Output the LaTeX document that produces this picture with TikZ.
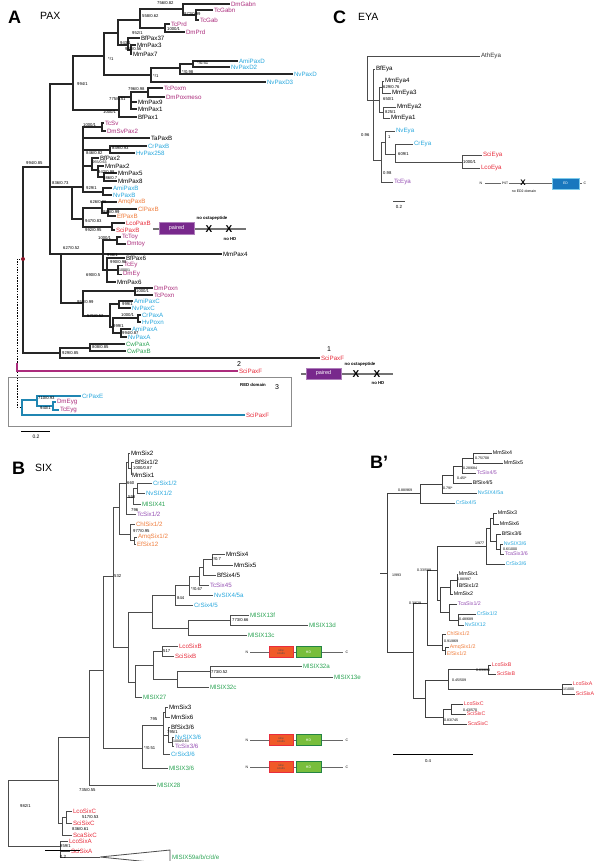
\documentclass[tikz,border=0pt]{standalone}
\usepackage{fontspec}
\setmainfont{Liberation Sans}
\definecolor{mag}{RGB}{172,45,125}
\definecolor{cyn}{RGB}{40,168,222}
\definecolor{org}{RGB}{240,125,60}
\definecolor{rd}{RGB}{232,45,60}
\definecolor{grn}{RGB}{45,165,85}
\definecolor{prp}{RGB}{150,80,180}
\definecolor{pbox}{RGB}{120,40,140}
\definecolor{edbl}{RGB}{25,120,190}
\definecolor{sobox}{RGB}{240,90,40}
\definecolor{hdbox}{RGB}{120,190,60}
\definecolor{dkred}{RGB}{140,20,40}
\newcommand\lf[5]{\node[leaf,text=#5] (#1) at (#2,#3) {#4};}
\newcommand\cd[3]{\coordinate (#1) at (#2,#3);}
\newcommand\ed[2]{\foreach \ch in {#2}{\draw[br] (#1) |- (\ch);}}
\newcommand\bs[3]{\node[bsl] (bs#1x#2) at (#1,#2) {#3};}
\begin{document}
\begin{tikzpicture}[x=1pt,y=-1pt,
 leaf/.style={anchor=west,inner sep=0.8pt,font=\fontsize{6.2}{6}\selectfont},
 bsl/.style={anchor=west,inner sep=0pt,font=\fontsize{4.2}{4.2}\selectfont},
 br/.style={draw=black!85,line width=1.1pt},
 ttl/.style={anchor=west,inner sep=0pt,font=\bfseries\fontsize{18}{18}\selectfont},
 sub/.style={anchor=west,inner sep=0pt,font=\fontsize{10.5}{10.5}\selectfont},
 xm/.style={inner sep=0pt,font=\bfseries\fontsize{10}{10}\selectfont},
 tiny/.style={inner sep=0pt,font=\bfseries\fontsize{4.3}{4.3}\selectfont},
 dline/.style={draw=black!55,line width=1.2pt}]
\useasboundingbox (0,0) rectangle (600,861);
\fill[white] (0,0) rectangle (600,861);

%================ PANEL A =================
\node[ttl] (tA) at (8,17) {A};
\node[sub] (tPAX) at (40,16) {PAX};
\lf{aDmGabn}{230}{4}{DmGabn}{mag}
\lf{aTcGabn}{213}{10}{TcGabn}{mag}
\lf{aTcGab}{199}{20}{TcGab}{mag}
\lf{aTcPrd}{170}{24}{TcPrd}{mag}
\lf{aDmPrd}{185}{32}{DmPrd}{mag}
\lf{aBfPax37}{140}{38}{BfPax37}{black}
\lf{aMmPax3}{136}{45}{MmPax3}{black}
\lf{aMmPax7}{132}{54}{MmPax7}{black}
\lf{aAmiPaxD}{238}{61}{AmiPaxD}{cyn}
\lf{aNvPaxD2}{230}{67}{NvPaxD2}{cyn}
\lf{aNvPaxD}{293}{74}{NvPaxD}{cyn}
\lf{aNvPaxD3}{266}{82}{NvPaxD3}{cyn}
\lf{aTcPoxm}{163}{88}{TcPoxm}{mag}
\lf{aDmPoxmeso}{165}{97}{DmPoxmeso}{mag}
\lf{aMmPax9}{137}{102}{MmPax9}{black}
\lf{aMmPax1}{137}{109}{MmPax1}{black}
\lf{aBfPax1}{137}{117}{BfPax1}{black}
\lf{aTcSv}{104}{123}{TcSv}{mag}
\lf{aDmSvPax2}{106}{131}{DmSvPax2}{mag}
\lf{aTaPaxB}{150}{138}{TaPaxB}{black}
\lf{aCrPaxB}{147}{146}{CrPaxB}{cyn}
\lf{aHvPax258}{135}{153}{HvPax258}{cyn}
\lf{aBfPax2}{99}{158}{BfPax2}{black}
\lf{aMmPax2}{104}{166}{MmPax2}{black}
\lf{aMmPax5}{117}{173}{MmPax5}{black}
\lf{aMmPax8}{117}{181}{MmPax8}{black}
\lf{aAmiPaxB}{112}{188}{AmiPaxB}{cyn}
\lf{aNvPaxB}{112}{195}{NvPaxB}{cyn}
\lf{aAmqPaxB}{117}{202}{AmqPaxB}{org}
\lf{aClPaxB}{137}{209}{ClPaxB}{org}
\lf{aEfPaxB}{116}{216}{EfPaxB}{org}
\lf{aLcoPaxB}{125}{223}{LcoPaxB}{rd}
\lf{aSciPaxB}{115}{230}{SciPaxB}{rd}
\lf{aTcToy}{121}{237}{TcToy}{mag}
\lf{aDmtoy}{126}{244}{Dmtoy}{mag}
\lf{aMmPax4}{222}{254}{MmPax4}{black}
\lf{aBfPax6}{125}{258}{BfPax6}{black}
\lf{aTcEy}{123}{265.5}{TcEy}{mag}
\lf{aDmEy}{122}{274.5}{DmEy}{mag}
\lf{aMmPax6}{116}{282}{MmPax6}{black}
\lf{aDmPoxn}{153}{288}{DmPoxn}{mag}
\lf{aTcPoxn}{153}{295}{TcPoxn}{mag}
\lf{aAmiPaxC}{133}{301}{AmiPaxC}{cyn}
\lf{aNvPaxC}{131}{308}{NvPaxC}{cyn}
\lf{aCrPaxA}{141}{315}{CrPaxA}{cyn}
\lf{aHvPoxn}{141}{322}{HvPoxn}{cyn}
\lf{aAmiPaxA}{131}{329}{AmiPaxA}{cyn}
\lf{aNvPaxA}{127}{337}{NvPaxA}{cyn}
\lf{aCwPaxA}{125}{344}{CwPaxA}{grn}
\lf{aCwPaxB}{126}{351}{CwPaxB}{grn}
\lf{aSciPaxFa}{320}{358}{SciPaxF}{rd}
\lf{aSciPaxFb}{238}{371}{SciPaxF}{rd}
\lf{aCrPaxE}{81}{396}{CrPaxE}{cyn}
\lf{aDmEyg}{56}{402}{DmEyg}{mag}
\lf{aTcEyg}{59}{410}{TcEyg}{mag}
\lf{aSciPaxFc}{245}{415}{SciPaxF}{rd}

\cd{aR}{23}{259}\cd{aA1}{50}{167}\cd{aT}{73}{84}\cd{aU}{104}{56}
\cd{aV}{118}{33}\cd{aG}{140}{20}\cd{aG1}{183}{9}\cd{aG2}{196}{15}
\cd{aP}{165}{28}\cd{aW}{128}{45}\cd{aX}{131}{50}
\cd{aD}{151}{75}\cd{aD1}{180}{68}\cd{aD2}{193}{64}
\cd{aQ}{119}{110}\cd{aQ1}{131}{97}\cd{aQ2}{148}{92}
\cd{aM}{72}{187}\cd{aM1}{83}{187}\cd{aS}{102}{127}\cd{aC}{110}{150}
\cd{aB}{92}{166}\cd{aB1}{98}{170}\cd{aB2}{104}{177}\cd{aNB}{103}{192}
\cd{aM2}{83}{219}\cd{aE}{102}{208}\cd{aE1}{108}{213}\cd{aL}{112}{227}
\cd{aN}{61}{254}\cd{aY}{103}{254}\cd{aToy}{117}{240}\cd{aEP}{107}{270}\cd{aEy}{118}{270}
\cd{aC2}{83}{303}\cd{aPx}{135}{291}\cd{aC3}{110}{316}\cd{aPC}{119}{304}
\cd{aPA}{113}{327}\cd{aCH}{138}{318}\cd{aAN}{121}{333}
\cd{aK}{60}{353}\cd{aCw}{90}{348}
\ed{aR}{aA1,aK}
\ed{aA1}{aT,aM,aN}
\ed{aT}{aU,aQ}
\ed{aU}{aV,aD}
\ed{aV}{aG,aW}
\ed{aG}{aG1,aP}
\ed{aG1}{aDmGabn,aG2}
\ed{aG2}{aTcGabn,aTcGab}
\ed{aP}{aTcPrd,aDmPrd}
\ed{aW}{aBfPax37,aX}
\ed{aX}{aMmPax3,aMmPax7}
\ed{aD}{aD1,aNvPaxD3}
\ed{aD1}{aD2,aNvPaxD}
\ed{aD2}{aAmiPaxD,aNvPaxD2}
\ed{aQ}{aQ1,aBfPax1}
\ed{aQ1}{aQ2,aMmPax9,aMmPax1}
\ed{aQ2}{aTcPoxm,aDmPoxmeso}
\ed{aM}{aM1,aM2}
\ed{aM1}{aS,aTaPaxB,aC,aB,aNB}
\ed{aS}{aTcSv,aDmSvPax2}
\ed{aC}{aCrPaxB,aHvPax258}
\ed{aB}{aBfPax2,aB1}
\ed{aB1}{aMmPax2,aB2}
\ed{aB2}{aMmPax5,aMmPax8}
\ed{aNB}{aAmiPaxB,aNvPaxB}
\ed{aM2}{aE,aL}
\ed{aE}{aAmqPaxB,aE1}
\ed{aE1}{aClPaxB,aEfPaxB}
\ed{aL}{aLcoPaxB,aSciPaxB}
\ed{aN}{aY,aC2}
\ed{aY}{aToy,aMmPax4,aEP}
\ed{aToy}{aTcToy,aDmtoy}
\ed{aEP}{aBfPax6,aEy,aMmPax6}
\ed{aEy}{aTcEy,aDmEy}
\ed{aC2}{aPx,aC3}
\ed{aPx}{aDmPoxn,aTcPoxn}
\ed{aC3}{aPC,aPA}
\ed{aPC}{aAmiPaxC,aNvPaxC}
\ed{aPA}{aCH,aAN}
\ed{aCH}{aCrPaxA,aHvPoxn}
\ed{aAN}{aAmiPaxA,aNvPaxA}
\ed{aK}{aCw,aSciPaxFa}
\ed{aCw}{aCwPaxA,aCwPaxB}
% blue subtree
\cd{bRt}{22}{407}\cd{bE}{37}{400}\cd{bEy}{53}{406}
\begin{scope}[br/.style={draw=cyn!80!black,line width=1.1pt}]
\ed{bRt}{bE,aSciPaxFc}
\ed{bE}{aCrPaxE,bEy}
\ed{bEy}{aDmEyg,aTcEyg}
\end{scope}
% dashed and magenta links
\cd{aDL1}{17}{259}\cd{aDL2}{17}{407}\cd{aMg}{17}{363}
\draw[line width=1pt,dash pattern=on 1.5pt off 1.2pt] (aR) -- (aDL1) -- (aDL2) -- (bRt);
\draw[draw=mag,line width=1.1pt] (aMg) |- (aSciPaxFb);
\fill[dkred] (aR) circle (2pt);
% box
\draw[draw=black!45,line width=0.9pt] (8,377) rectangle (291,426);
\node[tiny,anchor=west] (aRED) at (240,385) {RED domain};
\node[inner sep=0pt,font=\fontsize{7}{7}\selectfont] (n1) at (329,349) {1};
\node[inner sep=0pt,font=\fontsize{7}{7}\selectfont] (n2) at (239,364) {2};
\node[inner sep=0pt,font=\fontsize{7}{7}\selectfont] (n3) at (277,387) {3};
% bootstrap labels A
\bs{157}{3}{756/0.82}\bs{184}{14}{972/0.99}\bs{142}{16}{558/0.62}
\bs{167}{29}{1000/1}\bs{132}{33}{952/1}\bs{120}{43}{943/1}\bs{125}{49}{941/0.56}
\bs{108}{59}{*/1}\bs{197}{63}{*/0.51}\bs{182}{72}{*/0.98}\bs{153}{76}{*/1}
\bs{77}{84}{994/1}\bs{128}{89}{796/0.98}\bs{109}{99}{775/0.51}\bs{103}{112}{1000/1}
\bs{26}{163}{994/0.85}\bs{83}{125}{1000/1}\bs{112}{148}{849/0.93}\bs{86}{153}{846/0.82}
\node[bsl,font=\fontsize{3.6}{3.6}\selectfont] (bsB1) at (92.5,162) {955/0.63};\bs{98}{172}{942/0.98}\bs{103}{178}{986/0.7}
\bs{52}{183}{836/0.73}\bs{86}{188}{929/1}\bs{90}{202}{626/0.86}\bs{103}{212}{988/0.99}
\bs{85}{221}{947/0.83}\bs{85}{230}{992/0.95}\bs{98}{238}{1000/1}\bs{63}{248}{627/0.52}
\bs{107}{255}{998/1}\bs{110}{262}{990/0.98}\node[bsl,font=\fontsize{3.6}{3.6}\selectfont] (bsEy) at (119,270) {1000/1};\bs{86}{275}{690/0.5}
\bs{136}{291}{1000/1}\bs{77}{302}{952/0.99}\bs{122}{304}{999/1}\bs{121}{315}{1000/1}
\bs{87}{316}{571/0.52}\bs{113}{326}{999/1}\bs{122}{333}{994/0.87}\bs{92}{347}{808/0.85}
\bs{62}{353}{929/0.85}\bs{38}{398}{710/0.93}\bs{40}{408}{940/1}
% domain diagrams A
\cd{d1a}{153}{229}\cd{d1b}{246}{229}
\draw[dline] (d1a) -- (d1b);
\node[draw=pbox!60,fill=pbox,line width=0.6pt,minimum width=35pt,minimum height=12pt,inner sep=0pt,text=white,font=\fontsize{5.5}{5.5}\selectfont] (d1p) at (176.5,228.5) {paired};
\node[xm] (d1x1) at (209,229) {X};
\node[xm] (d1x2) at (229,229) {X};
\node[tiny] (d1t1) at (212,218) {no octapeptide};
\node[tiny] (d1t2) at (230,239) {no HD};
\cd{d2a}{301}{374}\cd{d2b}{393}{374}
\draw[dline] (d2a) -- (d2b);
\node[draw=pbox!60,fill=pbox,line width=0.6pt,minimum width=35pt,minimum height=11pt,inner sep=0pt,text=white,font=\fontsize{5.5}{5.5}\selectfont] (d2p) at (323.5,373.5) {paired};
\node[xm] (d2x1) at (356,374) {X};
\node[xm] (d2x2) at (377,374) {X};
\node[tiny] (d2t1) at (360,364) {no octapeptide};
\node[tiny] (d2t2) at (378,383) {no HD};
% scale A
\cd{sA1}{21}{431}\cd{sA2}{50}{431}
\draw[line width=0.9pt] (sA1) -- (sA2);
\node[inner sep=0pt,font=\fontsize{5}{5}\selectfont] (sAt) at (36,437) {0.2};

%================ PANEL C =================
\node[ttl] (tC) at (333,17) {C};
\node[sub] (tEYA) at (358,17) {EYA};
\begin{scope}[br/.style={draw=black!70,line width=0.8pt}]
\lf{cAthEya}{480}{56}{AthEya}{black!80}
\lf{cBfEya}{375}{69}{BfEya}{black}
\lf{cMmEya4}{384}{81}{MmEya4}{black}
\lf{cMmEya3}{391}{93}{MmEya3}{black}
\lf{cMmEya2}{396}{107}{MmEya2}{black}
\lf{cMmEya1}{390}{118}{MmEya1}{black}
\lf{cNvEya}{395}{131}{NvEya}{cyn}
\lf{cCrEya}{413}{144}{CrEya}{cyn}
\lf{cSciEya}{482}{155}{SciEya}{rd}
\lf{cLcoEya}{480}{168}{LcoEya}{rd}
\lf{cTcEya}{393}{182}{TcEya}{prp}
\cd{cR}{367}{78}\cd{c0}{373}{100}\cd{cMM}{379}{100}\cd{cM43}{382}{87}\cd{cM21}{383}{112}
\cd{cX1}{381}{160}\cd{cNE}{385}{142}\cd{cCE}{395}{154}\cd{cSL}{462}{162}
\ed{cR}{cAthEya,c0}
\ed{c0}{cBfEya,cMM,cX1}
\ed{cMM}{cM43,cM21}
\ed{cM43}{cMmEya4,cMmEya3}
\ed{cM21}{cMmEya2,cMmEya1}
\ed{cX1}{cNE,cTcEya}
\ed{cNE}{cNvEya,cCE}
\ed{cCE}{cCrEya,cSL}
\ed{cSL}{cSciEya,cLcoEya}
\end{scope}
\bs{383}{87}{629/0.76}\bs{383}{99}{650/1}\bs{385}{112}{825/1}\bs{361}{135}{0.96}
\bs{388}{137}{1}\bs{398}{154}{609/1}\bs{463}{162}{1000/1}\bs{383}{173}{0.98}
% domain C
\cd{cd1}{485}{183}\cd{cd2}{552}{183}\cd{cd3}{579}{183}\cd{cd4}{582}{183}
\draw[draw=black!60,line width=0.8pt] (cd1) -- (cd2) (cd3) -- (cd4);
\node[inner sep=0pt,font=\fontsize{3.5}{3.5}\selectfont] (cdN) at (481,183) {N};
\node[inner sep=0.5pt,fill=white,font=\fontsize{3.3}{3.3}\selectfont] (cdP) at (505,183) {PST};
\node[xm,font=\bfseries\fontsize{8}{8}\selectfont] (cdX) at (523,183) {X};
\node[inner sep=0pt,font=\fontsize{3.5}{3.5}\selectfont] (cdT) at (524,191) {no ED2 domain};
\node[draw=cyn!60,fill=edbl,line width=0.6pt,minimum width=27pt,minimum height=11pt,inner sep=0pt,text=white,font=\fontsize{3.5}{3.5}\selectfont] (cdB) at (565.5,183.5) {ED};
\node[inner sep=0pt,font=\fontsize{3.5}{3.5}\selectfont] (cdC) at (585,183) {C};
\cd{sC1}{393}{201}\cd{sC2}{405}{201}
\draw[line width=0.8pt,black!70] (sC1) -- (sC2);
\node[inner sep=0pt,font=\fontsize{4.5}{4.5}\selectfont] (sCt) at (399,207) {0.2};

%================ PANEL B =================
\node[ttl] (tB) at (12,468) {B};
\node[sub] (tSIX) at (35,468) {SIX};
\begin{scope}[br/.style={draw=black!70,line width=0.85pt}]
\lf{bMmSix2}{130}{453}{MmSix2}{black}
\lf{bBfSix12}{134}{462}{BfSix1/2}{black}
\lf{bMmSix1}{131}{475}{MmSix1}{black}
\lf{bCrSix12}{152}{483}{CrSix1/2}{cyn}
\lf{bNvSIX12}{145}{493}{NvSIX1/2}{cyn}
\lf{bMlSIX41}{141}{504}{MlSIX41}{grn}
\lf{bTcSix12}{136}{514}{TcSix1/2}{prp}
\lf{bChlSix12}{135}{524}{ChlSix1/2}{org}
\lf{bAmqSix12}{137}{537}{AmqSix1/2}{org}
\lf{bEfSix12}{136}{544}{EfSix12}{org}
\lf{bMmSix4}{225}{554}{MmSix4}{black}
\lf{bMmSix5}{233}{565}{MmSix5}{black}
\lf{bBfSix45}{216}{575}{BfSix4/5}{black}
\lf{bTcSix45}{209}{585}{TcSix45}{prp}
\lf{bNvSIX45a}{213}{595}{NvSIX4/5a}{cyn}
\lf{bCrSix45}{193}{605}{CrSix4/5}{cyn}
\lf{bMlSIX13f}{249}{615}{MlSIX13f}{grn}
\lf{bMlSIX13d}{308}{625}{MlSIX13d}{grn}
\lf{bMlSIX13c}{247}{635}{MlSIX13c}{grn}
\lf{bLcoSixB}{178}{646}{LcoSixB}{rd}
\lf{bSciSixB}{174}{656}{SciSixB}{rd}
\lf{bMlSIX32a}{302}{666}{MlSIX32a}{grn}
\lf{bMlSIX13e}{333}{677}{MlSIX13e}{grn}
\lf{bMlSIX32c}{209}{687}{MlSIX32c}{grn}
\lf{bMlSIX27}{142}{697}{MlSIX27}{grn}
\lf{bMmSix3}{168}{707}{MmSix3}{black}
\lf{bMmSix6}{170}{717}{MmSix6}{black}
\lf{bBfSix36}{170}{727}{BfSix3/6}{black}
\lf{bNvSIX36}{174}{737}{NvSIX3/6}{cyn}
\lf{bTcSix36}{174}{746}{TcSix3/6}{prp}
\lf{bCrSix36}{170}{754}{CrSix3/6}{cyn}
\lf{bMlSIX36}{168}{768}{MlSIX3/6}{grn}
\lf{bMlSIX28}{156}{785}{MlSIX28}{grn}
\lf{bLcoSixC}{72}{811}{LcoSixC}{rd}
\lf{bSciSixC}{72}{823}{SciSixC}{rd}
\lf{bScaSixC}{72}{835}{ScaSixC}{rd}
\lf{bLcoSixA}{68}{841}{LcoSixA}{rd}
\lf{bSciSixA}{70}{851}{SciSixA}{rd}
\cd{bB0}{113}{576}\cd{bB1}{119}{507}\cd{bS12}{126}{483}\cd{bSA}{128}{462}\cd{bSB}{131}{468}
\cd{bSC}{133}{497}\cd{bSD}{137}{488}\cd{bChl}{130}{534}\cd{bAE}{134}{540}
\cd{bF7}{128}{647}\cd{bF6}{152}{612}\cd{bF5}{175}{595}\cd{bF4}{189}{585}\cd{bF3}{199}{576}
\cd{bF2}{203}{567}\cd{bF1}{212}{559}\cd{bML}{188}{628}\cd{bMLa}{230}{620}
\cd{bG1}{135}{682}\cd{bG2}{153}{665}\cd{bSBB}{162}{651}\cd{bG3}{177}{679}\cd{bG4}{210}{671}
\cd{bB00}{103}{670}\cd{bY89}{89}{737}\cd{bN58}{58}{780}\cd{bRt2}{8}{806}
\cd{bH5}{142}{748}\cd{bH4}{163}{725}\cd{bH1}{165}{712}\cd{bH2}{168}{735}\cd{bH3}{172}{742}
\cd{bC1}{62}{823}\cd{bC2}{66}{817}\cd{bSAx}{60}{846}\cd{bTri}{100}{857}
\ed{bRt2}{bN58,bSAx}
\ed{bN58}{bY89,bC1}
\ed{bY89}{bB00,bMlSIX28}
\ed{bB00}{bB0,bH5}
\ed{bB0}{bB1,bF7}
\ed{bB1}{bS12,bChl}
\ed{bS12}{bSA,bSC,bTcSix12}
\ed{bSA}{bMmSix2,bSB}
\ed{bSB}{bBfSix12,bMmSix1}
\ed{bSC}{bSD,bMlSIX41}
\ed{bSD}{bCrSix12,bNvSIX12}
\ed{bChl}{bChlSix12,bAE}
\ed{bAE}{bAmqSix12,bEfSix12}
\ed{bF7}{bF6,bG1}
\ed{bF6}{bF5,bML}
\ed{bF5}{bF4,bCrSix45}
\ed{bF4}{bF3,bNvSIX45a}
\ed{bF3}{bF2,bTcSix45}
\ed{bF2}{bF1,bBfSix45}
\ed{bF1}{bMmSix4,bMmSix5}
\ed{bML}{bMLa,bMlSIX13c}
\ed{bMLa}{bMlSIX13f,bMlSIX13d}
\ed{bG1}{bG2,bMlSIX27}
\ed{bG2}{bSBB,bG3}
\ed{bSBB}{bLcoSixB,bSciSixB}
\ed{bG3}{bG4,bMlSIX32c}
\ed{bG4}{bMlSIX32a,bMlSIX13e}
\ed{bH5}{bH4,bMlSIX36}
\ed{bH4}{bH1,bH2,bCrSix36}
\ed{bH1}{bMmSix3,bMmSix6}
\ed{bH2}{bBfSix36,bH3}
\ed{bH3}{bNvSIX36,bTcSix36}
\ed{bC1}{bC2,bScaSixC}
\ed{bC2}{bLcoSixC,bSciSixC}
\ed{bSAx}{bLcoSixA,bSciSixA,bTri}
\end{scope}
\draw[draw=black!70,line width=0.8pt] (bTri) -- (170,850) -- (170,864) -- cycle;
\node[leaf,text=grn] (bMlSIX59) at (171,857) {MlSIX59a/b/c/d/e};
\bs{133}{468}{1000/0.87}\bs{127}{483}{660}\bs{128}{497}{598}\bs{131}{510}{796}
\bs{133}{531}{977/0.95}\bs{114}{576}{532}\bs{212}{559}{*/0.7}\bs{191}{589}{*/0.67}
\bs{177}{598}{844}\bs{232}{620}{773/0.66}\bs{163}{651}{517}\bs{211}{672}{773/0.52}
\bs{150}{719}{795}\bs{167}{732}{795/1}\node[bsl,font=\fontsize{3.5}{3.5}\selectfont] (bs36) at (173,741.5) {1000/0.63};\bs{144}{748}{*/0.51}
\bs{79}{790}{735/0.55}\bs{20}{806}{982/1}\bs{82}{817}{517/0.53}\bs{72}{829}{836/0.61}
\bs{60}{846}{859/1}
% domain diagrams B
\foreach \yy/\nm in {652/da,740/db,767/dc}{
 \draw[draw=black!60,line width=0.8pt] (250,\yy) -- (343,\yy);
 \node[inner sep=0pt,font=\fontsize{3.5}{3.5}\selectfont] (\nm N) at (247,\yy) {N};
 \node[inner sep=0pt,font=\fontsize{3.5}{3.5}\selectfont] (\nm C) at (347,\yy) {C};
 \node[draw=rd,fill=sobox,line width=0.6pt,minimum width=24pt,minimum height=11pt,inner sep=0pt,align=center,font=\fontsize{3}{3.3}\selectfont,text=black!70] (\nm S) at (281,\yy) {sine\\oculis};
 \node[draw=grn!80!black,fill=hdbox,line width=0.6pt,minimum width=25pt,minimum height=11pt,inner sep=0pt,font=\fontsize{3.5}{3.5}\selectfont,text=white] (\nm H) at (308.5,\yy) {HD};
}
\cd{sB1}{45}{850}\cd{sB2}{80}{850}
\draw[line width=0.8pt] (sB1) -- (sB2);
\node[inner sep=0pt,font=\fontsize{4.5}{4.5}\selectfont] (sBt) at (63,857) {0.2};

%================ PANEL B' =================
\node[ttl] (tBp) at (370,462) {B’};
\begin{scope}[br/.style={draw=black!75,line width=0.9pt},leaf/.style={anchor=west,inner sep=0.7pt,font=\fontsize{5.3}{5.3}\selectfont},bsl/.style={anchor=west,inner sep=0pt,font=\fontsize{3.6}{3.6}\selectfont}]
\lf{pMmSix4}{492}{453}{MmSix4}{black}
\lf{pMmSix5}{503}{463}{MmSix5}{black}
\lf{pTcSix45}{476}{473}{TcSix4/5}{prp}
\lf{pBfSix45}{472}{483}{BfSix4/5}{black}
\lf{pNvSIX45a}{477}{493}{NvSIX4/5a}{cyn}
\lf{pCrSix45}{455}{503}{CrSix4/5}{cyn}
\lf{pMmSix3}{497}{513}{MmSix3}{black}
\lf{pMmSix6}{499}{524}{MmSix6}{black}
\lf{pBfSix36}{501}{534}{BfSix3/6}{black}
\lf{pNvSIX36}{503}{544}{NvSIX3/6}{cyn}
\lf{pTcaSix36}{504}{554}{TcaSix3/6}{prp}
\lf{pCrSix36}{505}{564}{CrSix3/6}{cyn}
\lf{pMmSix1}{458}{574}{MmSix1}{black}
\lf{pBfSix12}{458}{586}{BfSix1/2}{black}
\lf{pMmSix2}{453}{594}{MmSix2}{black}
\lf{pTcaSix12}{457}{604}{TcaSix1/2}{prp}
\lf{pCrSix12}{476}{614}{CrSix1/2}{cyn}
\lf{pNvSIX12}{464}{625}{NvSIX12}{cyn}
\lf{pChlSix12}{446}{634}{ChlSix1/2}{org}
\lf{pAmqSix12}{449}{647}{AmqSix1/2}{org}
\lf{pEfSix12}{446}{654}{EfSix1/2}{org}
\lf{pLcoSixB}{491}{665}{LcoSixB}{rd}
\lf{pSciSixB}{496}{674}{SciSixB}{rd}
\lf{pLcoSixA}{572}{684}{LcoSixA}{rd}
\lf{pSciSixA}{575}{694}{SciSixA}{rd}
\lf{pLcoSixC}{463}{704}{LcoSixC}{rd}
\lf{pSciSixC}{466}{714}{SciSixC}{rd}
\lf{pScaSixC}{467}{724}{ScaSixC}{rd}
\cd{pP1}{473}{458}\cd{pP2}{462}{466}\cd{pP3}{453}{475}\cd{pP4}{442}{484}\cd{pP5}{420}{493}
\cd{pR}{387}{573}\cd{pStub}{380}{573}\cd{pQ0}{413}{652}\cd{pT2}{427}{603}\cd{pT1}{437}{570}
\cd{pR6}{486}{546}\cd{pR5}{490}{528}\cd{pR1}{493}{518}\cd{pR4}{496}{541}\cd{pR3}{500}{549}
\cd{pS5}{440}{600}\cd{pS2}{450}{587}\cd{pS1}{457}{580}\cd{pS4}{449}{612}\cd{pS3}{458}{620}
\cd{pC1}{442}{645}\cd{pC2}{445}{650}
\cd{pV3}{425}{698}\cd{pU3}{448}{680}\cd{pU1}{488}{669}\cd{pU2}{562}{689}
\cd{pV2}{443}{717}\cd{pV1}{451}{709}
\draw[br] (pStub) -- (pR);
\ed{pR}{pP5,pQ0}
\ed{pP5}{pP4,pCrSix45}
\ed{pP4}{pP3,pNvSIX45a}
\ed{pP3}{pP2,pBfSix45}
\ed{pP2}{pP1,pTcSix45}
\ed{pP1}{pMmSix4,pMmSix5}
\ed{pQ0}{pT2,pV3}
\ed{pT2}{pT1,pC1}
\ed{pT1}{pR6,pS5}
\ed{pR6}{pR5,pCrSix36}
\ed{pR5}{pR1,pR4}
\ed{pR1}{pMmSix3,pMmSix6}
\ed{pR4}{pBfSix36,pR3}
\ed{pR3}{pNvSIX36,pTcaSix36}
\ed{pS5}{pS2,pS4}
\ed{pS2}{pS1,pMmSix2}
\ed{pS1}{pMmSix1,pBfSix12}
\ed{pS4}{pTcaSix12,pS3}
\ed{pS3}{pCrSix12,pNvSIX12}
\ed{pC1}{pChlSix12,pC2}
\ed{pC2}{pAmqSix12,pEfSix12}
\ed{pV3}{pU3,pV2}
\ed{pU3}{pU1,pU2}
\ed{pU1}{pLcoSixB,pSciSixB}
\ed{pU2}{pLcoSixA,pSciSixA}
\ed{pV2}{pV1,pScaSixC}
\ed{pV1}{pLcoSixC,pSciSixC}
\bs{475}{458}{0.75/708}\bs{463}{468}{0.28/684}\bs{457}{478}{0.45/*}\bs{443}{488}{0.79/*}
\bs{398}{490}{0.88/969}\bs{475}{543}{1/977}\bs{503}{549}{0.6/1000}\bs{392}{575}{1/993}
\bs{417}{570}{0.33/589}\bs{457}{579}{0.88/997}\bs{409}{603}{0.3/629}\bs{459}{619}{0.48/689}
\bs{444}{641}{0.91/869}\bs{476}{670}{0.63/638}\bs{452}{680}{0.45/509}\bs{563}{689}{1/1000}
\bs{463}{710}{0.43/570}\bs{444}{720}{0.83/745}
\end{scope}
\cd{sP1}{393}{754}\cd{sP2}{473}{754}
\draw[line width=0.8pt] (sP1) -- (sP2);
\node[inner sep=0pt,font=\fontsize{4.3}{4.3}\selectfont] (sPt) at (428,761) {0.4};
\end{tikzpicture}
\end{document}
